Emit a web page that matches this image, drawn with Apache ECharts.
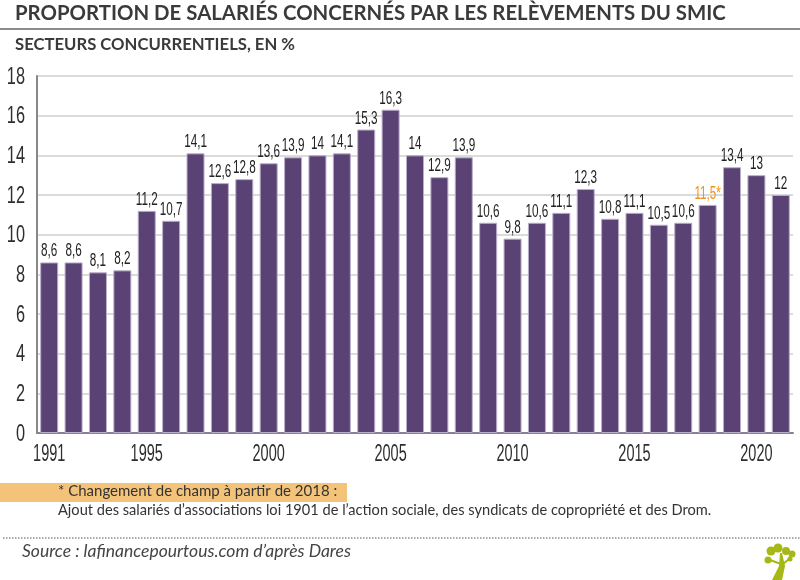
<!DOCTYPE html>
<html>
<head>
<meta charset="utf-8">
<script src="https://cdn.jsdelivr.net/npm/echarts@6/dist/echarts.min.js"></script>
<style>
html, body { margin: 0; padding: 0; background: #fff; }
#main { width: 800px; height: 580px; }
</style>
</head>
<body>
<div id="main"></div>
<script>
var years = ['1991','1992','1993','1994','1995','1996','1997','1998','1999','2000',
	'2001','2002','2003','2004','2005','2006','2007','2008','2009','2010',
	'2011','2012','2013','2014','2015','2016','2017','2018','2019','2020','2021'];
var values = [8.6,8.6,8.1,8.2,11.2,10.7,14.1,12.6,12.8,13.6,
	13.9,14,14.1,15.3,16.3,14,12.9,13.9,10.6,9.8,
	10.6,11.1,12.3,10.8,11.1,10.5,10.6,11.5,13.4,13,12];
var shownYears = ['1991','1995','2000','2005','2010','2015','2020'];
var highlightYear = '2018';
var yTicks = [0,2,4,6,8,10,12,14,16,18];

var titleText = 'PROPORTION DE SALARIÉS CONCERNÉS PAR LES RELÈVEMENTS DU SMIC';
var subtitleText = 'SECTEURS CONCURRENTIELS, EN %';
var noteHead = '* Changement de champ à partir de 2018 :';
var noteBody = 'Ajout des salariés d’associations loi 1901 de l’action sociale, des syndicats de copropriété et des Drom.';
var sourceText = 'Source : lafinancepourtous.com d’après Dares';

var sans = '"Liberation Sans", sans-serif';
var body = 'Lato, "Noto Sans", sans-serif';
var green = '#a5b815';

var myChart = echarts.init(document.getElementById('main'));

// pas de police condensee installee : on resserre le texte avec scaleX
function narrowText(x, y, text, size, scale, color, align, baseline) {
	return {
		type: 'text', x: x, y: y, scaleX: scale, silent: true,
		style: { text: text, font: size + 'px ' + sans, fill: color, align: align, verticalAlign: baseline }
	};
}

function comma(v) {
	return String(v).replace('.', ',');
}

var option = {
	backgroundColor: '#fff',
	animation: false,
	grid: { left: 37, top: 76, width: 756, height: 357 },
	xAxis: {
		type: 'category',
		data: years,
		axisLine: { lineStyle: { color: '#8b7f96', width: 2 } },
		axisTick: { inside: true, length: 9, alignWithLabel: false, interval: 0, lineStyle: { color: '#333', width: 1 } },
		axisLabel: { show: false }
	},
	yAxis: {
		type: 'value',
		min: yTicks[0],
		max: yTicks[yTicks.length - 1],
		interval: 2,
		axisLine: { show: true, lineStyle: { color: '#888', width: 2 } },
		axisTick: { show: false },
		splitLine: { lineStyle: { color: '#cfcfcf', width: 1.5 } },
		axisLabel: { show: false }
	},
	series: [{
		type: 'bar',
		data: values,
		barWidth: 18,
		itemStyle: { color: '#5a4275', borderColor: '#b9aec9', borderWidth: 1 }
	}, {
		// valeurs au-dessus des barres
		type: 'custom',
		data: values.map(function (v, i) { return [i, v]; }),
		encode: { x: 0, y: 1 },
		z: 5,
		renderItem: function (params, api) {
			var i = api.value(0), v = api.value(1);
			var pt = api.coord([i, v]);
			var hi = years[i] == highlightYear;
			return narrowText(pt[0], pt[1] - 2, comma(v) + (hi ? '*' : ''), 18, 0.65, hi ? '#f0941e' : '#222', 'center', 'bottom');
		}
	}, {
		// annees sous l'axe
		type: 'custom',
		data: shownYears.map(function (y) { return [years.indexOf(y), 0]; }),
		encode: { x: 0, y: 1 },
		z: 5,
		renderItem: function (params, api) {
			var pt = api.coord([api.value(0), 0]);
			return narrowText(pt[0], pt[1] + 10, years[api.value(0)], 23, 0.63, '#2e2e2e', 'center', 'top');
		}
	}, {
		// graduations de l'axe des y
		type: 'custom',
		data: yTicks.map(function (t) { return [0, t]; }),
		encode: { x: 0, y: 1 },
		z: 5,
		renderItem: function (params, api) {
			var pt = api.coord([0, api.value(1)]);
			return narrowText(25, pt[1] + 1, String(api.value(1)), 24, 0.68, '#2e2e2e', 'right', 'middle');
		}
	}],
	graphic: [
		{ type: 'text', x: 15, y: 3, scaleX: 0.97, style: { text: titleText, font: 'bold 21px ' + body, fill: '#3a3a3a' } },
		{ type: 'line', shape: { x1: 0, y1: 29, x2: 800, y2: 29 }, style: { stroke: '#666', lineWidth: 1.5 } },
		{ type: 'text', x: 15, y: 36, scaleX: 0.98, style: { text: subtitleText, font: 'bold 17px ' + body, fill: '#3a3a3a' } },
		{ type: 'rect', shape: { x: 0, y: 483, width: 347, height: 19 }, style: { fill: '#f4c37a' }, z: 1 },
		{ type: 'text', x: 58, y: 484, z: 2, style: { text: noteHead, font: '15px ' + body, fill: '#333' } },
		{ type: 'text', x: 58, y: 503, z: 2, scaleX: 0.974, style: { text: noteBody, font: '15px ' + body, fill: '#333' } },
		{ type: 'line', shape: { x1: 3, y1: 538, x2: 800, y2: 538 }, style: { stroke: '#555', lineWidth: 1, lineDash: [1.5, 1.5] } },
		{ type: 'text', x: 22, y: 543, scaleX: 1.03, style: { text: sourceText, font: 'italic 17px ' + body, fill: '#444' } },
		// petit arbre du logo
		{ type: 'polygon', shape: { points: [[772,580],[779,566],[780,553],[782,553],[785,566],[782,580]] }, style: { fill: green } },
		{ type: 'circle', shape: { cx: 768, cy: 560, r: 3.5 }, style: { fill: green } },
		{ type: 'circle', shape: { cx: 771, cy: 551, r: 4.5 }, style: { fill: green } },
		{ type: 'circle', shape: { cx: 778, cy: 548, r: 4.5 }, style: { fill: green } },
		{ type: 'circle', shape: { cx: 786, cy: 551, r: 4 }, style: { fill: green } },
		{ type: 'circle', shape: { cx: 792, cy: 554, r: 3.5 }, style: { fill: green } },
		{ type: 'circle', shape: { cx: 790, cy: 559, r: 2.5 }, style: { fill: green } },
		{ type: 'line', shape: { x1: 770, y1: 560, x2: 781, y2: 564 }, style: { stroke: green, lineWidth: 2 } },
		{ type: 'line', shape: { x1: 789, y1: 559, x2: 783, y2: 564 }, style: { stroke: green, lineWidth: 2 } }
	]
};
myChart.setOption(option);
</script>
</body>
</html>
